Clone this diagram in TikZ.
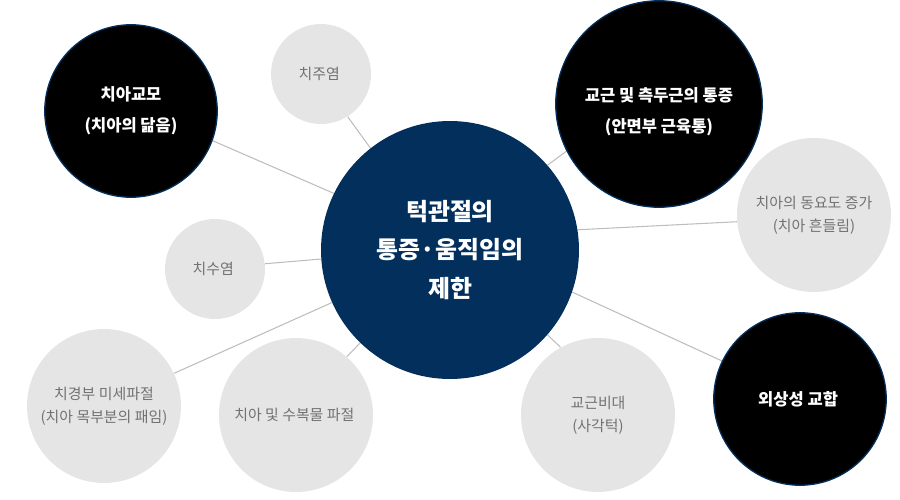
\documentclass[tikz,border=0pt]{standalone}
\usepackage{fontspec}
\setmainfont{Noto Sans CJK KR}
\usetikzlibrary{backgrounds}
\definecolor{navy}{HTML}{032F5C}
\definecolor{palefill}{HTML}{E5E5E5}
\definecolor{paletext}{HTML}{727272}
\definecolor{wiregray}{HTML}{BDBDBD}

\begin{document}
\begin{tikzpicture}[x=0.02cm,y=-0.02cm,
        hub/.style={circle,fill=navy,text=white,inner sep=0pt,minimum size=5.16cm,align=center,
            font=\bfseries\fontsize{13.6pt}{21.8pt}\selectfont},
        whitetext/.style={text=white,align=center,font=\bfseries\fontsize{9.4pt}{17.6pt}\selectfont},
        dark/.style={circle,draw=navy,line width=0.75pt,fill=black,inner sep=0pt,whitetext},
        soft/.style={circle,fill=palefill,text=paletext,inner sep=0pt,minimum size=3.08cm,align=center,
            font=\fontsize{8.5pt}{13pt}\selectfont},
        wire/.style={draw=wiregray,line width=0.6pt}]
            \useasboundingbox (0,0) rectangle (900,500);

            \node[hub] (hub) at (450,250) { 턱관절의\\통증·움직임의\\제한 };

            \node[dark,minimum size=3.45cm] (s1) at (131,111) { 치아교모\\(치아의 닮음) };
            \node[soft,minimum size=2cm] (s2) at (321,74) { 치주염 };
            \node[dark,minimum size=4.13cm] (s3) at (659,104) {};
            \node[whitetext] (s3text) at (659,112) { 교근 및 측두근의 통증\\(안면부 근육통) };
            \node[soft] (s4) at (814,215) { 치아의 동요도 증가\\(치아 흔들림) };
            \node[soft,minimum size=2cm] (s5) at (215,269) { 치수염 };
            \node[soft] (s6) at (104,406) { 치경부 미세파절\\(치아 목부분의 패임) };
            \node[soft] (s7) at (296,415) { 치아 및 수복물 파절 };
            \node[soft] (s8) at (598,415) { 교근비대\\(사각턱) };
            \node[dark,minimum size=3.45cm] (s9) at (800,399) { 외상성 교합 };

            \begin{scope}[on background layer]
                \draw[wire] (hub.154) -- (s1.340);
                \draw[wire] (hub.128) -- (s2.302);
                \draw[wire] (hub.41) -- (s3.207);
                \draw[wire] (hub.9) -- (s4.185);
                \draw[wire] (hub.184) -- (s5.6);
                \draw[wire] (hub.204) -- (s6.25);
                \draw[wire] (hub.226) -- (s7.49);
                \draw[wire] (hub.319) -- (s8.119);
                \draw[wire] (hub.341) -- (s9.154);
            \end{scope}

        \end{tikzpicture}
\end{document}
